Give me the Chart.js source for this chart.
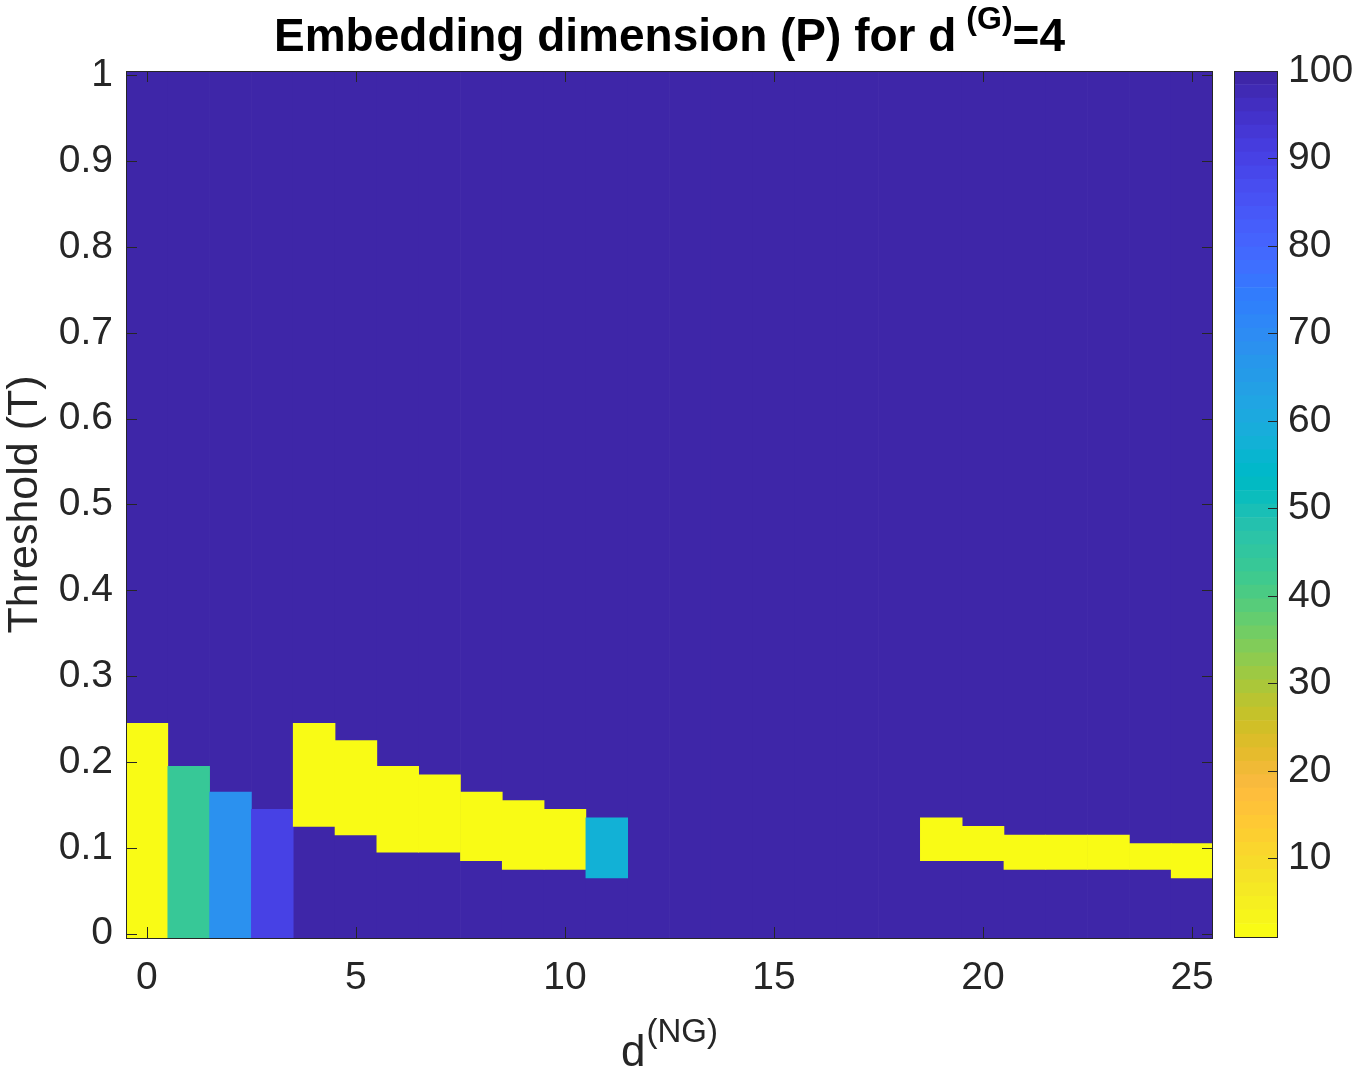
<!DOCTYPE html>
<html>
<head>
<meta charset="utf-8">
<title>Embedding dimension (P)</title>
<script src="https://cdn.jsdelivr.net/npm/chart.js@4.4.1/dist/chart.umd.min.js"></script>
<style>
  html, body { margin: 0; padding: 0; background: #fff; }
  #wrap { position: relative; width: 1357px; height: 1073px; }
  #wrap canvas { position: absolute; top: 0; }
  #mainChart { left: 0; }
  #cbChart { left: 1200px; }
</style>
</head>
<body>
<div id="wrap">
  <canvas id="mainChart" width="1357" height="1073"></canvas>
  <canvas id="cbChart" width="157" height="1073"></canvas>
</div>
<script>
// d(NG) columns, one cell column per value
const dNG = [0, 1, 2, 3, 4, 5, 6, 7, 8, 9, 10, 11, 12, 13, 14, 15, 16, 17, 18, 19, 20, 21, 22, 23, 24, 25];
// threshold band (first / last T row) where P differs from the rest, null = no band
const bandLow = [0.00, 0.00, 0.00, 0.00, 0.13, 0.12, 0.10, 0.10, 0.09, 0.08, 0.08, 0.07,
  null, null, null, null, null, null, null, 0.09, 0.09, 0.08, 0.08, 0.08, 0.08, 0.07];
const bandHigh = [0.24, 0.19, 0.16, 0.14, 0.24, 0.22, 0.19, 0.18, 0.16, 0.15, 0.14, 0.13,
  null, null, null, null, null, null, null, 0.13, 0.12, 0.11, 0.11, 0.11, 0.10, 0.10];
const bandP = [1, 44, 68, 90, 1, 1, 1, 1, 1, 1, 1, 57,
  null, null, null, null, null, null, null, 1, 1, 1, 1, 1, 1, 1];
const restP = 100; // P for every other cell
const tStep = 0.01; // spacing of the threshold grid

const xTicks = [0, 5, 10, 15, 20, 25];
const yTicks = [0, 0.1, 0.2, 0.3, 0.4, 0.5, 0.6, 0.7, 0.8, 0.9, 1];
const cbTicks = [10, 20, 30, 40, 50, 60, 70, 80, 90, 100];
const cLim = [1, 100];

// matlab parula(64), the figure uses it flipped
const PARULA = [
  [0.2422,0.1504,0.6603],[0.2504,0.1650,0.7076],[0.2578,0.1818,0.7511],[0.2647,0.1978,0.7952],
  [0.2706,0.2147,0.8364],[0.2751,0.2342,0.8710],[0.2783,0.2559,0.8991],[0.2803,0.2782,0.9221],
  [0.2813,0.3006,0.9414],[0.2810,0.3228,0.9579],[0.2795,0.3447,0.9717],[0.2760,0.3667,0.9829],
  [0.2699,0.3892,0.9906],[0.2602,0.4123,0.9952],[0.2440,0.4358,0.9988],[0.2206,0.4603,0.9973],
  [0.1963,0.4847,0.9892],[0.1834,0.5074,0.9798],[0.1786,0.5289,0.9682],[0.1764,0.5499,0.9520],
  [0.1687,0.5703,0.9359],[0.1540,0.5902,0.9218],[0.1460,0.6091,0.9079],[0.1380,0.6276,0.8973],
  [0.1248,0.6459,0.8883],[0.1113,0.6635,0.8763],[0.0952,0.6798,0.8598],[0.0689,0.6948,0.8394],
  [0.0297,0.7082,0.8163],[0.0036,0.7203,0.7917],[0.0067,0.7312,0.7660],[0.0433,0.7411,0.7394],
  [0.0964,0.7500,0.7120],[0.1408,0.7584,0.6842],[0.1717,0.7670,0.6554],[0.1938,0.7758,0.6251],
  [0.2161,0.7843,0.5923],[0.2470,0.7918,0.5567],[0.2906,0.7973,0.5188],[0.3406,0.8008,0.4789],
  [0.3909,0.8029,0.4354],[0.4456,0.8024,0.3909],[0.5044,0.7993,0.3480],[0.5616,0.7942,0.3045],
  [0.6174,0.7876,0.2612],[0.6720,0.7793,0.2227],[0.7242,0.7698,0.1910],[0.7738,0.7598,0.1646],
  [0.8203,0.7498,0.1535],[0.8634,0.7406,0.1596],[0.9035,0.7330,0.1774],[0.9393,0.7288,0.2100],
  [0.9728,0.7298,0.2394],[0.9956,0.7434,0.2371],[0.9970,0.7659,0.2199],[0.9952,0.7893,0.2028],
  [0.9892,0.8136,0.1885],[0.9786,0.8386,0.1766],[0.9676,0.8639,0.1643],[0.9610,0.8890,0.1537],
  [0.9597,0.9135,0.1423],[0.9628,0.9373,0.1265],[0.9691,0.9606,0.1064],[0.9769,0.9839,0.0805],
];

const FONT = '"Liberation Sans", Arial, Helvetica, sans-serif';
const INK = "#262626";
const TICK_LEN = 11;

function levelColor(k) {
  const c = PARULA[PARULA.length - 1 - k];
  return `rgb(${Math.round(c[0] * 255)}, ${Math.round(c[1] * 255)}, ${Math.round(c[2] * 255)})`;
}

function cmapColor(v) {
  let k = Math.floor(((v - cLim[0]) / (cLim[1] - cLim[0])) * PARULA.length);
  k = Math.max(0, Math.min(PARULA.length - 1, k));
  return levelColor(k);
}

// text with a superscript part, centred on cx
function drawSup(ctx, cx, base, parts, font, supFont, rise, gap) {
  const [main, sup, tail] = parts;
  ctx.font = font;
  const w1 = ctx.measureText(main).width;
  const w3 = ctx.measureText(tail).width;
  ctx.font = supFont;
  const w2 = ctx.measureText(sup).width;
  let x = cx - (w1 + gap + w2 + w3) / 2;
  ctx.textAlign = "left";
  ctx.textBaseline = "alphabetic";
  ctx.font = font;
  ctx.fillText(main, x, base);
  x += w1 + gap;
  ctx.font = supFont;
  ctx.fillText(sup, x, base - rise);
  x += w2;
  ctx.font = font;
  ctx.fillText(tail, x, base);
}

const half = tStep / 2;
const restData = dNG.map((x) => ({ x, y: [-half, 1 + half] }));
const bandData = [];
const bandColors = [];
dNG.forEach((x, i) => {
  if (bandP[i] == null) return;
  bandData.push({ x, y: [bandLow[i] - half, bandHigh[i] + half] });
  bandColors.push(cmapColor(bandP[i]));
});

const boxTicks = {
  id: "boxTicks",
  afterDatasetsDraw(chart) {
    const { ctx, chartArea: a, scales } = chart;
    ctx.save();
    ctx.strokeStyle = INK;
    ctx.lineWidth = 1;
    ctx.beginPath();
    xTicks.forEach((v) => {
      const px = Math.round(scales.x.getPixelForValue(v)) + 0.5;
      ctx.moveTo(px, a.bottom);
      ctx.lineTo(px, a.bottom - TICK_LEN);
      ctx.moveTo(px, a.top);
      ctx.lineTo(px, a.top + TICK_LEN);
    });
    yTicks.forEach((v) => {
      const py = Math.round(scales.y.getPixelForValue(v)) + 0.5;
      ctx.moveTo(a.left, py);
      ctx.lineTo(a.left + TICK_LEN, py);
      ctx.moveTo(a.right, py);
      ctx.lineTo(a.right - TICK_LEN, py);
    });
    ctx.stroke();
    ctx.strokeRect(a.left + 0.5, a.top + 0.5, a.right - a.left - 1, a.bottom - a.top);
    ctx.restore();
  },
};

const axisText = {
  id: "axisText",
  afterDraw(chart) {
    const { ctx, chartArea: a } = chart;
    const cx = (a.left + a.right) / 2;
    ctx.save();
    ctx.fillStyle = "#000";
    drawSup(ctx, cx, 51, ["Embedding dimension (P) for d", "(G)", "=4"],
      `bold 46px ${FONT}`, `bold 32px ${FONT}`, 22, 10);
    ctx.fillStyle = INK;
    drawSup(ctx, cx, 1066, ["d", "(NG)", ""], `44px ${FONT}`, `33px ${FONT}`, 24, 1);
    ctx.translate(37, (a.top + a.bottom) / 2);
    ctx.rotate(-Math.PI / 2);
    ctx.font = `43px ${FONT}`;
    ctx.textAlign = "center";
    ctx.textBaseline = "alphabetic";
    ctx.fillText("Threshold (T)", 0, 0);
    ctx.restore();
  },
};

new Chart(document.getElementById("mainChart"), {
  type: "bar",
  data: {
    datasets: [
      {
        label: "band",
        data: bandData,
        backgroundColor: bandColors,
        borderWidth: 0,
        grouped: false,
        barPercentage: 1,
        categoryPercentage: 1,
        order: 0,
      },
      {
        label: "rest",
        data: restData,
        backgroundColor: cmapColor(restP),
        borderWidth: 0,
        grouped: false,
        barPercentage: 1,
        categoryPercentage: 1,
        order: 1,
      },
    ],
  },
  options: {
    responsive: false,
    animation: false,
    devicePixelRatio: 1,
    layout: { padding: { top: 71, left: 0, right: 144, bottom: 75 } },
    plugins: { legend: { display: false }, tooltip: { enabled: false } },
    scales: {
      x: {
        type: "linear",
        min: -0.5,
        max: 25.5,
        offset: false,
        grid: { display: false, drawTicks: false, offset: false },
        border: { display: false },
        afterBuildTicks: (s) => { s.ticks = xTicks.map((v) => ({ value: v })); },
        afterFit: (s) => { s.height = 60; },
        ticks: {
          autoSkip: false,
          maxRotation: 0,
          padding: 17,
          color: INK,
          font: { family: FONT, size: 39 },
          callback: (v) => String(v),
        },
      },
      y: {
        type: "linear",
        min: -half,
        max: 1 + half,
        grid: { display: false, drawTicks: false },
        border: { display: false },
        afterBuildTicks: (s) => { s.ticks = yTicks.map((v) => ({ value: v })); },
        afterFit: (s) => { s.width = 126; },
        ticks: {
          autoSkip: false,
          padding: 13,
          color: INK,
          font: { family: FONT, size: 39 },
          callback: (v) => String(+v.toFixed(1)),
        },
      },
    },
  },
  plugins: [boxTicks, axisText],
});

// colorbar: one floating bar per colormap level
const cbSets = PARULA.map((_, k) => {
  const step = (cLim[1] - cLim[0]) / PARULA.length;
  return {
    data: [[cLim[0] + k * step, cLim[0] + (k + 1) * step]],
    backgroundColor: levelColor(k),
    borderWidth: 0,
    grouped: false,
    barPercentage: 1,
    categoryPercentage: 1,
  };
});

const cbBox = {
  id: "cbBox",
  afterDatasetsDraw(chart) {
    const { ctx, chartArea: a, scales } = chart;
    ctx.save();
    ctx.strokeStyle = INK;
    ctx.lineWidth = 1;
    ctx.beginPath();
    cbTicks.forEach((v) => {
      const py = Math.round(scales.y.getPixelForValue(v)) + 0.5;
      ctx.moveTo(a.right, py);
      ctx.lineTo(a.right - 10, py);
    });
    ctx.stroke();
    ctx.strokeRect(a.left + 0.5, a.top + 0.5, a.right - a.left - 1, a.bottom - a.top);
    ctx.restore();
  },
};

new Chart(document.getElementById("cbChart"), {
  type: "bar",
  data: { labels: [""], datasets: cbSets },
  options: {
    responsive: false,
    animation: false,
    devicePixelRatio: 1,
    layout: { padding: { top: 71, left: 34, right: 0, bottom: 136 } },
    plugins: { legend: { display: false }, tooltip: { enabled: false } },
    scales: {
      x: { display: false },
      y: {
        type: "linear",
        position: "right",
        min: cLim[0],
        max: cLim[1],
        grid: { display: false, drawTicks: false },
        border: { display: false },
        afterBuildTicks: (s) => { s.ticks = cbTicks.map((v) => ({ value: v })); },
        afterFit: (s) => { s.width = 79; },
        ticks: {
          autoSkip: false,
          padding: 10,
          color: INK,
          font: { family: FONT, size: 39 },
        },
      },
    },
  },
  plugins: [cbBox],
});
</script>
</body>
</html>
